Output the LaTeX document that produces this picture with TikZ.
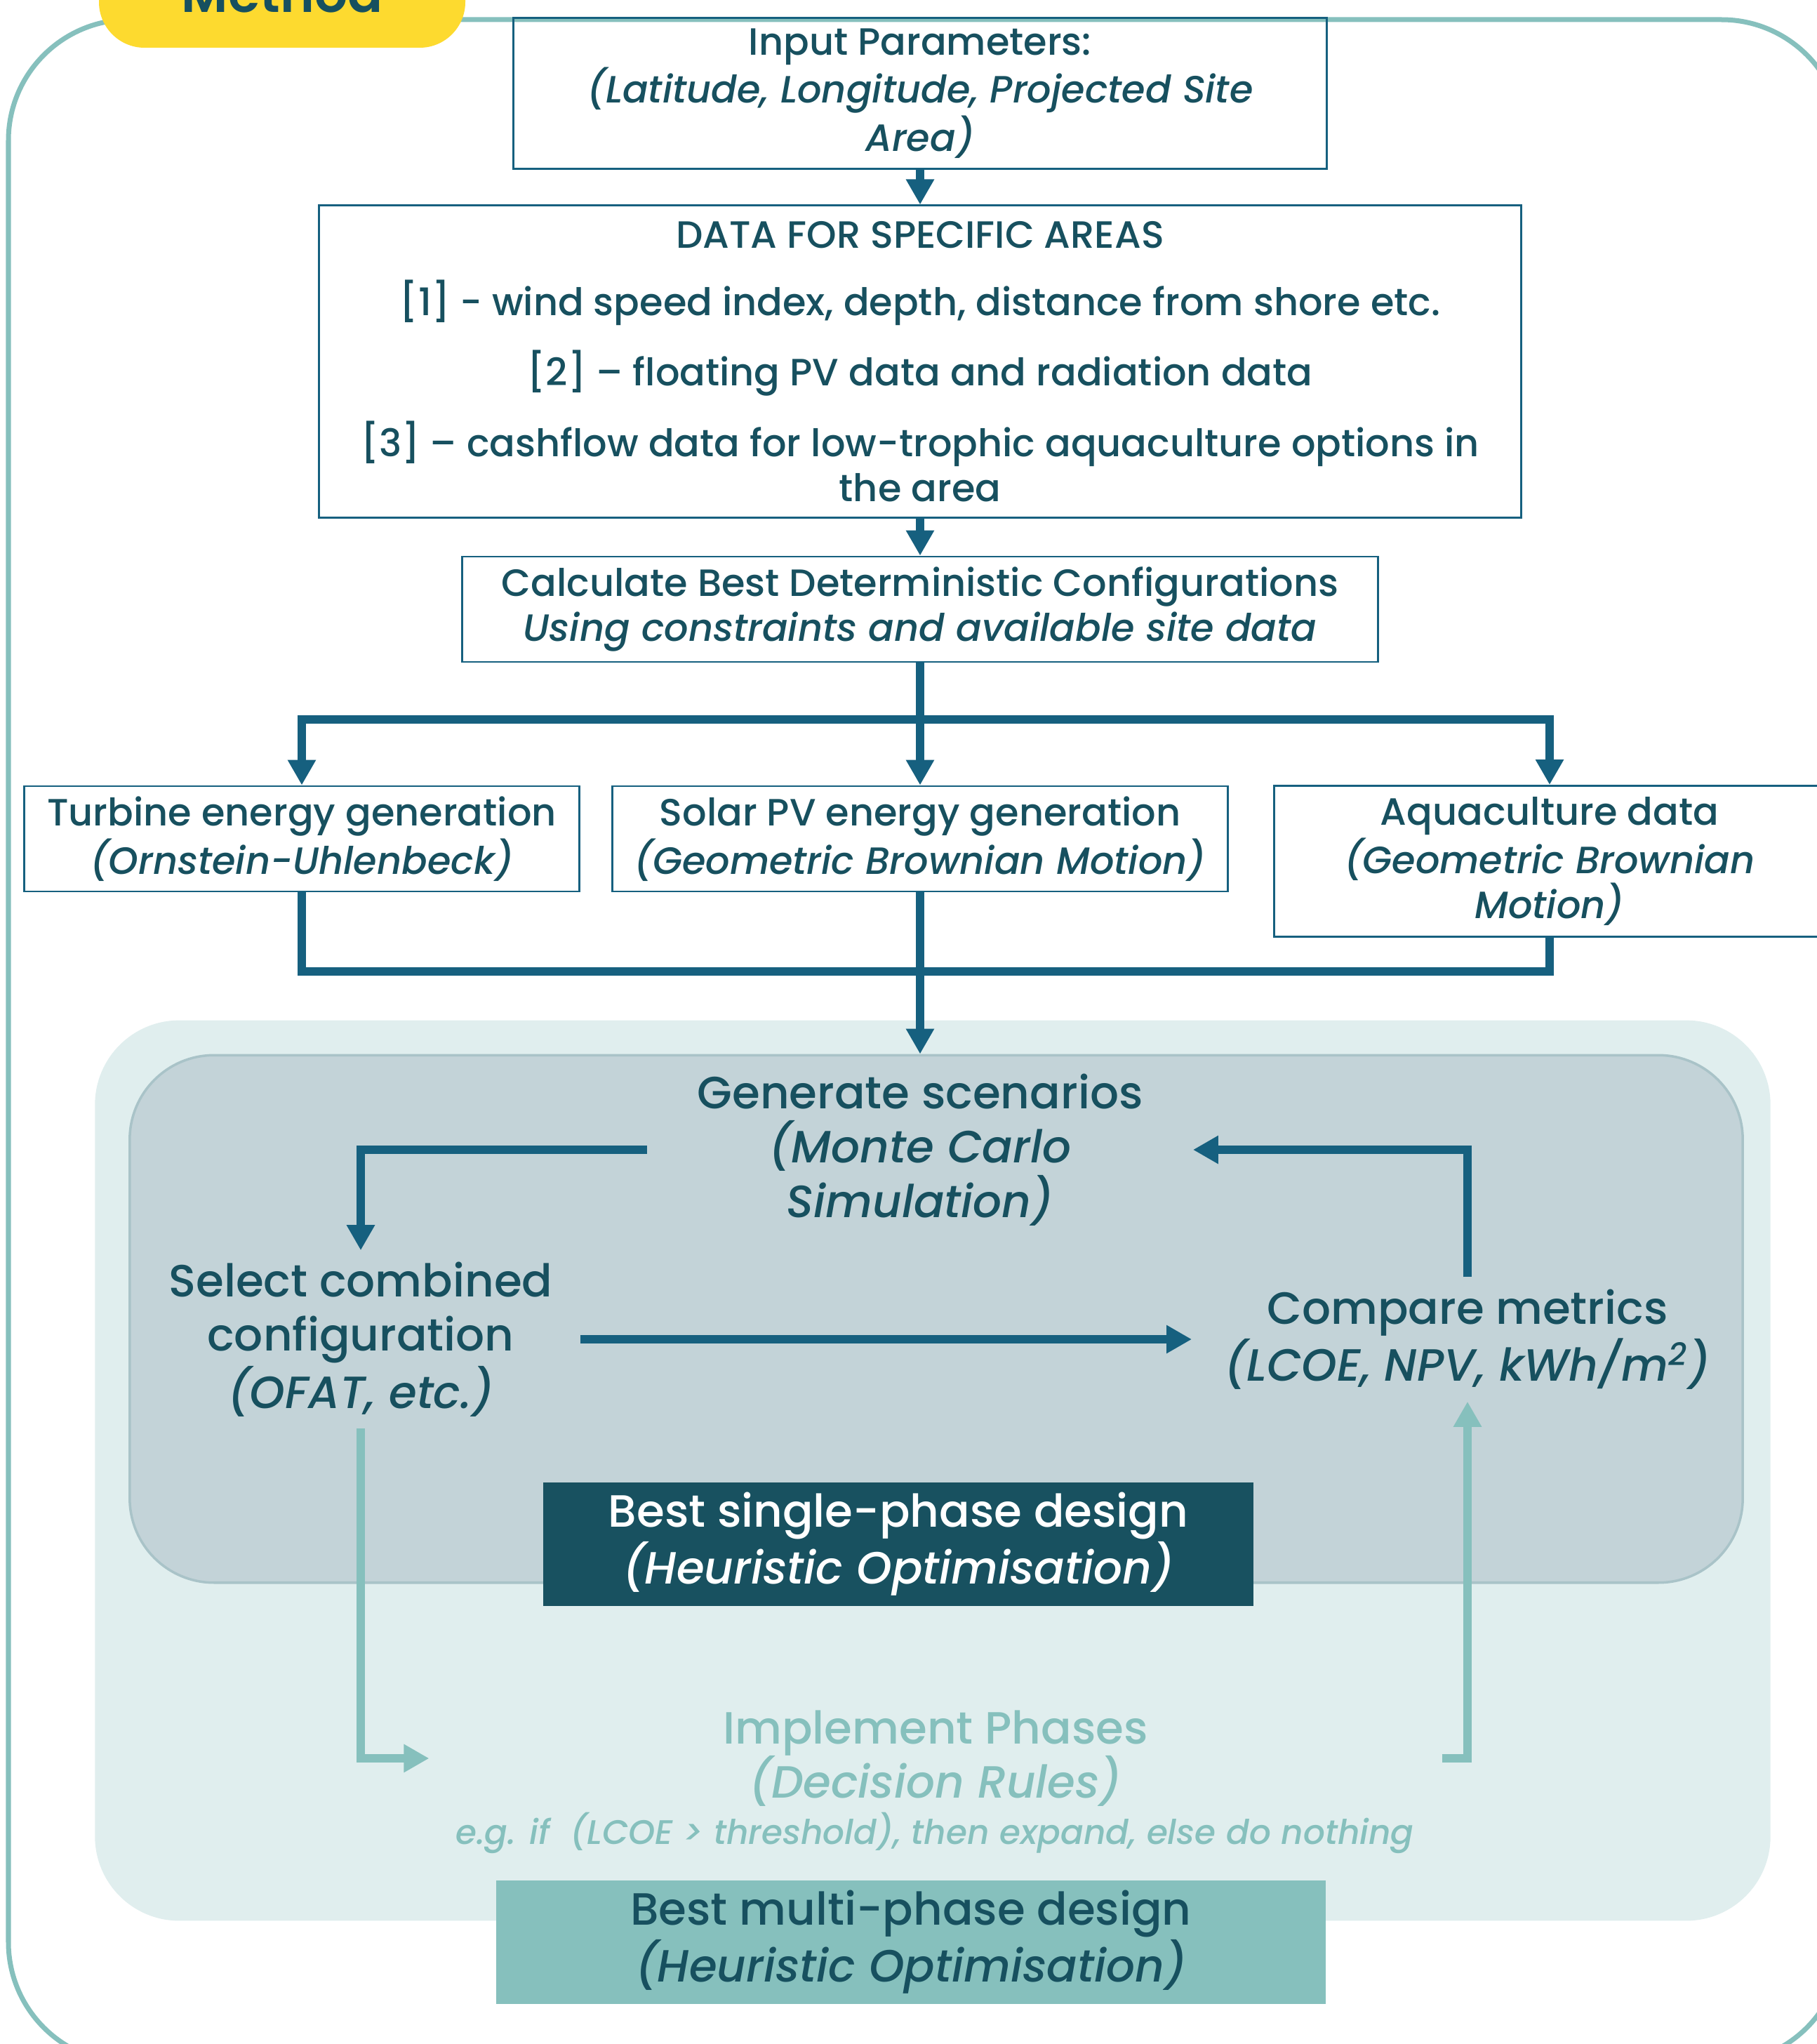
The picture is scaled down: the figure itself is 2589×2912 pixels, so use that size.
\documentclass[tikz,border=0pt]{standalone}
\usepackage{fontspec}
\setmainfont{Poppins Medium}[ItalicFont=Poppins Medium Italic, BoldFont=Poppins SemiBold]
\usetikzlibrary{arrows.meta, positioning}
\definecolor{frameteal}{HTML}{86C0BD}
\definecolor{flowblue}{HTML}{16607F}
\definecolor{inkdark}{HTML}{17505F}
\definecolor{methodyellow}{HTML}{FDDA2F}
\definecolor{phasebg}{HTML}{E0EEEE}
\definecolor{simbg}{HTML}{C3D3D8}
\definecolor{simedge}{HTML}{A9C3C8}
\definecolor{bestdark}{HTML}{185160}

\tikzset{
  databox/.style={draw=flowblue, line width=0.8pt, text=inkdark, align=center, inner sep=0pt},
  bodytext/.style={font=\fontsize{15.4}{18.2}\selectfont},
  bigtext/.style={font=\fontsize{18.3}{22}\selectfont, text=inkdark, align=center, inner sep=0pt},
  flow/.style={draw=flowblue, line width=0.12cm},
  lightflow/.style={draw=frameteal, line width=0.12cm},
}

\begin{document}
\begin{tikzpicture}[x=0.01cm, y=-0.01cm, >={Triangle[length=0.36cm,width=0.38cm]}]
    \fill[white] (0,0) rectangle (2589,2912);
    \useasboundingbox (0,0) rectangle (2589,2912);

    \draw[frameteal, line width=0.07cm, rounded corners=1.72cm] (12,28) rectangle (2625,2939);
    \fill[methodyellow, rounded corners=0.65cm] (141,-80) rectangle (663,68);
    \node[anchor=base, text=inkdark, font=\fontsize{21}{25}\selectfont\bfseries] (method) at (402,18) {Method};

    \node[databox, bodytext, minimum width=11.59cm, minimum height=2.15cm, text depth=0.1cm] (input) at (1311,133)
        {Input Parameters:\\\textit{(Latitude, Longitude, Projected Site}\\\textit{Area)}};
    \node[databox, bodytext, minimum width=17.12cm, minimum height=4.44cm] (data) at (1311,515)
        {{\fontsize{15.4}{18.2}\selectfont DATA FOR SPECIFIC AREAS}\\[0.32cm]
         [1] - wind speed index, depth, distance from shore etc.\\[0.32cm]
         [2] – floating PV data and radiation data\\[0.32cm]
         [3] – cashflow data for low-trophic aquaculture options in\\the area};
    \node[databox, bodytext, minimum width=13.04cm, minimum height=1.5cm] (calc) at (1311,868)
        {Calculate Best Deterministic Configurations\\\textit{Using constraints and available site data}};

    \node[databox, bodytext, minimum width=7.9cm, minimum height=1.5cm] (turbine) at (430,1195)
        {Turbine energy generation\\\textit{(Ornstein-Uhlenbeck)}};
    \node[databox, bodytext, minimum width=8.77cm, minimum height=1.5cm] (solar) at (1311,1195)
        {Solar PV energy generation\\\textit{(Geometric Brownian Motion)}};
    \node[databox, bodytext, minimum width=7.84cm, minimum height=2.15cm] (aqua) at (2208,1227)
        {Aquaculture data\\\textit{(Geometric Brownian}\\\textit{Motion)}};

    \node[fill=phasebg, rounded corners=1.2cm, minimum width=23.86cm, minimum height=12.82cm] (phasebox) at (1329,2095) {};
    \node[fill=simbg, draw=simedge, line width=1pt, rounded corners=1.2cm, minimum width=22.97cm, minimum height=7.51cm] (simbox) at (1334,1879) {};

    \coordinate (split) at (1311,1025);
    \coordinate (merge) at (1311,1384);
    \draw[->, flow] (input) -- (data);
    \draw[->, flow] (data) -- (calc);
    \draw[flow] (calc) -- (split);
    \draw[->, flow] (split) -| (turbine);
    \draw[->, flow] (split) -- (solar);
    \draw[->, flow] (split) -| (aqua);
    \draw[flow] (turbine) |- (merge);
    \draw[flow] (aqua) |- (merge);
    \draw[->, flow] (solar) -- (solar.south |- simbox.north);

    \node[bigtext, minimum width=7.76cm] (gen) at (1311,1638)
        {Generate scenarios\\\textit{(Monte Carlo}\\\textit{Simulation)}};
    \node[bigtext, minimum width=6.24cm, minimum height=2.52cm] (sel) at (514,1908)
        {Select combined\\configuration\\\textit{(OFAT, etc.)}};
    \node[bigtext, minimum width=7.84cm, minimum height=1.76cm] (cmp) at (2091,1908)
        {Compare metrics\\\textit{(LCOE, NPV, kWh/m\textsuperscript{2})}};
    \node[bigtext, fill=bestdark, text=white, minimum width=10.11cm, minimum height=1.75cm] (single) at (1280,2200)
        {Best single-phase design\\\textit{(Heuristic Optimisation)}};
    \node[bigtext, text=frameteal, minimum width=14.41cm] (impl) at (1333,2505)
        {Implement Phases\\\textit{(Decision Rules)}};
    \node[text=frameteal, font=\fontsize{13.8}{17}\selectfont\itshape] (rule) at (1332,2611)
        {e.g. if\ \ (LCOE > threshold), then expand, else do nothing};
    \node[bigtext, fill=frameteal, minimum width=11.81cm, minimum height=1.75cm] (multi) at (1298,2767)
        {Best multi-phase design\\\textit{(Heuristic Optimisation)}};

    \draw[->, flow] (gen.west) -| (sel.north);
    \draw[->, flow] (sel) -- (cmp);
    \draw[->, flow] (cmp.north) |- (gen.east);
    \draw[->, lightflow] (sel.south) |- (impl.west);
    \draw[->, lightflow] (impl.east) -| (cmp.south);
\end{tikzpicture}
\end{document}
